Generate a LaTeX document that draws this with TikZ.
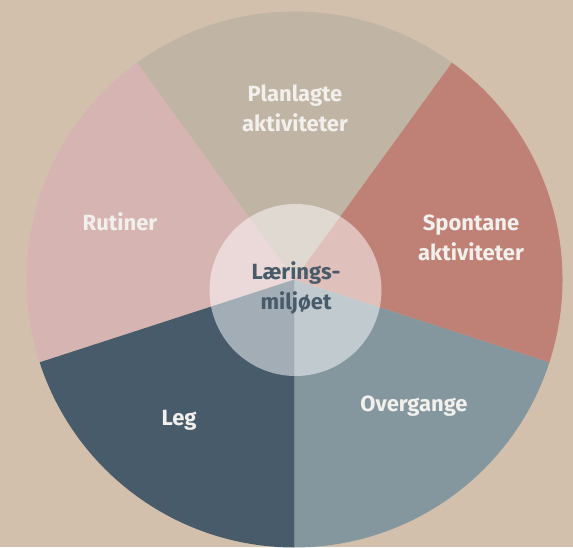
\documentclass[tikz,border=0pt]{standalone}
\usepackage{fontspec}
\setmainfont{Fira Sans}
\definecolor{bgtan}{RGB}{211, 192, 172}
\definecolor{planbeige}{RGB}{192, 180, 164}
\definecolor{spontred}{RGB}{191, 129, 118}
\definecolor{rutinrose}{RGB}{213, 180, 178}
\definecolor{legslate}{RGB}{72, 91, 107}
\definecolor{overgrey}{RGB}{132, 151, 159}
\definecolor{labelwhite}{RGB}{242, 240, 236}
\usepackage{tikz}
\usetikzlibrary{positioning}

\begin{document}
\begin{tikzpicture}[x=1pt, y=1pt,
    sectorlabel/.style={text=labelwhite, align=center, font=\fontsize{22}{30}\selectfont\bfseries}]
    % Background
    \fill[bgtan] (0, 0) rectangle (573, 547);
    \useasboundingbox (0, 0) rectangle (573, 547);

    % Sectors
    \coordinate (hub) at (294.5, 267.5);
    \fill[planbeige] (hub) -- ++(54:268) arc[start angle=54, end angle=126, radius=268] -- cycle;
    \fill[rutinrose] (hub) -- ++(126:268) arc[start angle=126, end angle=198, radius=268] -- cycle;
    \fill[legslate] (hub) -- ++(198:268) arc[start angle=198, end angle=270, radius=268] -- cycle;
    \fill[overgrey] (hub) -- ++(270:268) arc[start angle=270, end angle=342, radius=268] -- cycle;
    \fill[spontred] (hub) -- ++(-18:268) arc[start angle=-18, end angle=54, radius=268] -- cycle;

    % Centre
    \fill[white, opacity=0.5] (295.5, 257) circle[radius=86];
    \node[align=center, text=legslate, font=\fontsize{22}{30}\selectfont\bfseries] (centre) at (296, 259) {Lærings-\\miljøet};

    % Labels
    \node[sectorlabel] (planlagte) at (295, 439) {Planlagte\\aktiviteter};
    \node[sectorlabel] (spontane) at (471, 309) {Spontane\\aktiviteter};
    \node[sectorlabel] (rutiner) at (120, 325) {Rutiner};
    \node[sectorlabel] (leg) at (179, 127) {Leg};
    \node[sectorlabel] (overgange) at (414, 141) {Overgange};
\end{tikzpicture}
\end{document}
